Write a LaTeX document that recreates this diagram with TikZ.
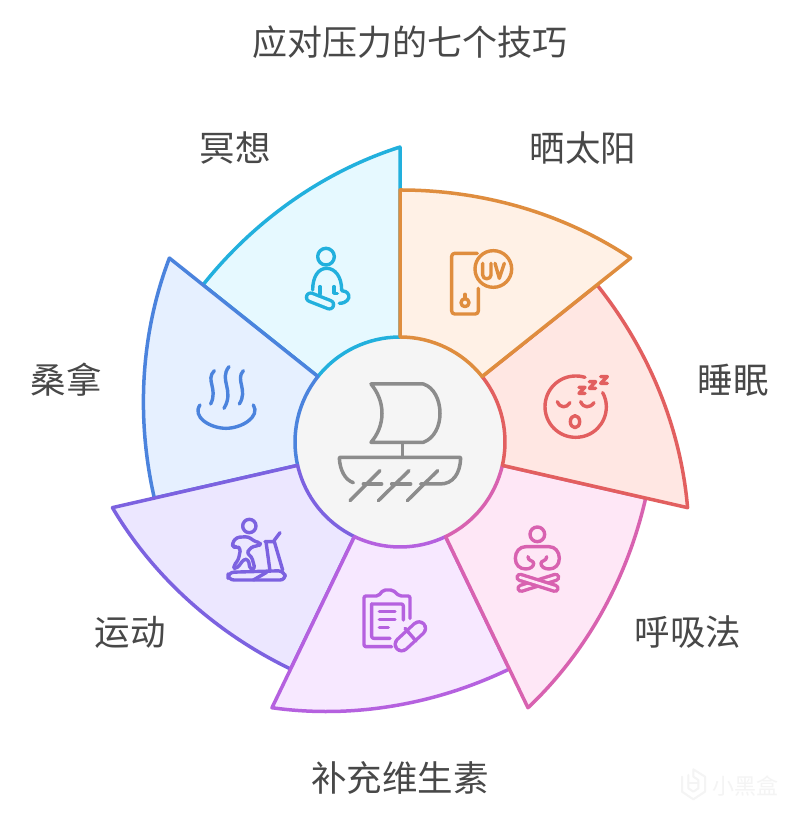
\documentclass[tikz,border=0pt]{standalone}
\usepackage{fontspec}
\setmainfont{Noto Sans CJK SC}
\definecolor{cSun}{HTML}{DF8D3E}\definecolor{fSun}{HTML}{FFF1E6}
\definecolor{cSleep}{HTML}{E25F5F}\definecolor{fSleep}{HTML}{FFE7E3}
\definecolor{cBreath}{HTML}{D862B0}\definecolor{fBreath}{HTML}{FEE7F6}
\definecolor{cPill}{HTML}{B561DF}\definecolor{fPill}{HTML}{F7E8FF}
\definecolor{cRun}{HTML}{7C62E0}\definecolor{fRun}{HTML}{ECE7FF}
\definecolor{cMass}{HTML}{4B83DD}\definecolor{fMass}{HTML}{E6F0FF}
\definecolor{cMed}{HTML}{22B0DD}\definecolor{fMed}{HTML}{E6F9FF}
\definecolor{txt}{HTML}{484848}
\definecolor{boat}{HTML}{8C8C8C}
\definecolor{wm}{HTML}{F4F4F4}
\tikzset{
  x=1pt,y=1pt,
  petal/.style={line width=3.5pt,line join=round},
  ico/.style={draw=#1,line width=3.4pt,line cap=round,line join=round},
  lab/.style={text=txt,font=\fontsize{35.5}{35.5}\selectfont,inner sep=0pt},
  z/.style args={#1/#2}{shift={(#1,821-#2)},x=.33333pt,y=-.33333pt}
}
\newcommand{\petalshape}[3]{%
  \begin{scope}[shift={(400,379)},rotate=#1]
    \draw[petal,draw=#2,fill=#3] (0,105) -- (0,252)
      .. controls (82,252) and (163,229) .. (38.57:295) -- (38.57:105)
      arc[start angle=38.57,end angle=90,radius=105] -- cycle;
  \end{scope}}
\newcommand{\capsuleline}[5]{%
  \draw[#1,line width=#5+3.4pt,line cap=round] #3 -- #4;
  \draw[#2,line width=#5-3.4pt,line cap=round] #3 -- #4;}
\begin{document}
\begin{tikzpicture}
\useasboundingbox (0,0) rectangle (800,821);
\fill[white] (0,0) rectangle (800,821);
\fill[black!4] (400,379) circle[radius=105];
\petalshape{-308.57}{cMed}{fMed}
\petalshape{-257.14}{cMass}{fMass}
\petalshape{-205.71}{cRun}{fRun}
\petalshape{-154.29}{cPill}{fPill}
\petalshape{-102.86}{cBreath}{fBreath}
\petalshape{-51.43}{cSleep}{fSleep}
\petalshape{0}{cSun}{fSun}

% labels
\node[lab,font=\fontsize{35}{35}\selectfont] (title) at (410,779) {应对压力的七个技巧};
\node[lab] (lmed) at (235,673) {冥想};
\node[lab] (lsun) at (583,673) {晒太阳};
\node[lab] (lsleep) at (733,441) {睡眠};
\node[lab] (lmass) at (66,441) {桑拿};
\node[lab] (lbreath) at (688,189) {呼吸法};
\node[lab] (lrun) at (130,189) {运动};
\node[lab] (lpill) at (400,43) {补充维生素};

% boat
\begin{scope}[z=290/330]
  \tikzset{every path/.style={ico=boat,line width=3.5pt}}
  \draw (243,162) -- (400,162) .. controls (432,172) and (450,210) .. (450,250)
        .. controls (450,290) and (432,325) .. (400,337) -- (243,337)
        .. controls (262,315) and (276,285) .. (276,250) .. controls (276,215) and (262,185) .. (243,162) -- cycle;
  \draw (338,340) -- (338,382);
  \draw (190,458) .. controls (165,450) and (150,420) .. (148,385) -- (150,382) -- (510,382) -- (512,385)
        .. controls (510,430) and (490,462) .. (450,462) -- (392,462);
  \draw (270,422) -- (180,512);
  \draw (357,422) -- (265,512);
  \draw (443,422) -- (352,512);
  \draw (220,462) -- (275,462);
  \draw (305,462) -- (362,462);
\end{scope}

% meditation
\begin{scope}[z=290/230]
  \tikzset{every path/.style={ico=cMed}}
  \draw (108,80) circle[radius=25];
  \draw (68,180) .. controls (68,140) and (85,115) .. (110,115) .. controls (135,115) and (155,140) .. (155,180);
  \draw (90,170) -- (90,192);
  \draw (132,170) -- (132,190) -- (142,190);
  \draw (148,220) .. controls (170,220) and (180,205) .. (176,195) .. controls (172,185) and (162,182) .. (155,182);
\end{scope}
\begin{scope}[z=290/230]
  \capsuleline{cMed}{fMed}{(62,202)}{(118,224)}{8.5pt}
\end{scope}

% UV
\begin{scope}[z=445/245]
  \tikzset{every path/.style={ico=cSun}}
  \draw[rounded corners=3pt] (97,25) -- (20,25) -- (20,207) -- (100,207) -- (100,130);
  \draw (145,72) circle[radius=55];
  \draw (113,55) -- (113,90) .. controls (113,105) and (138,105) .. (138,90) -- (138,55);
  \draw (150,55) -- (163,100) -- (178,55);
  \draw (60,173) circle[radius=12];
  \draw (60,148) -- (60,160);
\end{scope}

% sleep
\begin{scope}[z=530/360]
  \tikzset{every path/.style={ico=cSleep}}
  \draw (165,52) .. controls (150,48) and (145,48) .. (137,48)
     .. controls (85,48) and (45,90) .. (45,140) .. controls (45,190) and (85,232) .. (137,232)
     .. controls (190,232) and (229,190) .. (229,140) .. controls (229,125) and (225,110) .. (218,98);
  \draw (82,125) .. controls (90,145) and (110,145) .. (120,128);
  \draw (152,125) .. controls (160,145) and (180,145) .. (192,128);
  \draw (135,185) ellipse[x radius=14,y radius=18];
  \draw (147,82) -- (165,82) -- (147,100) -- (165,100);
  \draw (178,65) -- (197,65) -- (178,85) -- (197,85);
  \draw (212,50) -- (232,50) -- (212,70) -- (232,70);
\end{scope}

% breathing
\begin{scope}[z=505/520]
  \tikzset{every path/.style={ico=cBreath}}
  \draw (97,43) circle[radius=22];
  \draw (62,80) -- (132,80) .. controls (150,80) and (163,95) .. (163,115)
    .. controls (163,135) and (150,147) .. (132,147) .. controls (118,147) and (108,140) .. (108,130)
    .. controls (108,120) and (125,125) .. (125,110) ;
  \draw (62,80) .. controls (44,80) and (31,95) .. (31,115)
    .. controls (31,135) and (44,147) .. (62,147) .. controls (76,147) and (86,140) .. (86,130)
    .. controls (86,120) and (69,125) .. (69,110);
\end{scope}
\begin{scope}[z=505/520]
  \capsuleline{cBreath}{fBreath}{(152,172)}{(48,205)}{6pt}
  \capsuleline{cBreath}{fBreath}{(45,172)}{(150,205)}{6pt}
\end{scope}

% pill
\begin{scope}[z=350/580]
  \tikzset{every path/.style={ico=cPill}}
  \draw[rounded corners=2pt] (180,115) -- (180,48) -- (148,48) -- (128,30) -- (100,30) -- (85,48) -- (42,48) -- (42,200) -- (125,200);
  \draw[rounded corners=2pt] (65,72) -- (160,72) -- (160,120);
  \draw[rounded corners=2pt] (65,72) -- (65,175) -- (120,175);
  \draw (88,95) -- (135,95);
  \draw (88,118) -- (135,118);
  \draw (88,142) -- (115,142);
\end{scope}
\begin{scope}[z=350/580]
  \capsuleline{cPill}{fPill}{(155,193)}{(207,145)}{13pt}
  \draw[ico=cPill] (165,145) -- (198,183);
\end{scope}

% treadmill
\begin{scope}[z=220/510]
  \tikzset{every path/.style={ico=cRun}}
  \draw (88,48) circle[radius=20];
  \draw[rounded corners=3pt] (36,100) -- (50,82) -- (85,80) -- (105,95) -- (122,98) -- (118,108) -- (100,108) -- (88,118) -- (80,130) -- (95,140) -- (105,177) -- (90,178) -- (85,148) -- (70,148) -- (60,165) -- (45,178) -- (40,168) -- (55,150) -- (62,115) -- (50,110) -- (40,112) -- cycle;
  \draw[rounded corners=6pt] (24,187) -- (192,182) -- (198,210) -- (24,210) -- cycle;
  \draw (100,210) -- (140,187);
  \draw (135,95) -- (160,95) -- (180,68);
  \draw (138,95) -- (150,183);
  \draw (163,95) -- (188,180);
\end{scope}

% massage / steam
\begin{scope}[z=190/360]
  \tikzset{every path/.style={ico=cMass}}
  \draw (73,32) .. controls (45,60) and (85,85) .. (62,132);
  \draw (117,20) .. controls (85,60) and (135,90) .. (102,145);
  \draw (160,32) .. controls (135,60) and (175,90) .. (148,132);
  \draw (30,135) .. controls (5,170) and (60,205) .. (108,205)
        .. controls (155,205) and (212,170) .. (190,135);
\end{scope}

% watermark
\node[text=wm,font=\fontsize{22}{22}\selectfont,inner sep=0pt] (wmtext) at (745,35) {小黑盒};
\begin{scope}[z=680/760]
  \draw[wm,line width=2pt,line join=round,line cap=round] (6,50) -- (6,95) -- (40,118) -- (75,95) -- (75,50) -- (40,28) -- (40,50) -- (55,60) -- (55,85) -- (40,95) -- (25,85) -- (25,45);
  \draw[wm,line width=2pt,line cap=round] (25,70) -- (55,70);
\end{scope}
\end{tikzpicture}
\end{document}
